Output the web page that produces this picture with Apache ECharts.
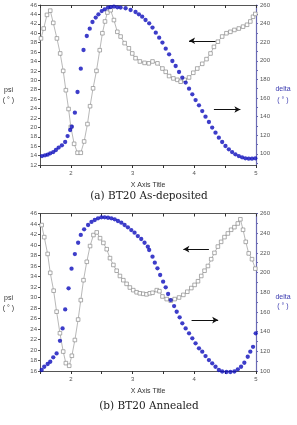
<!DOCTYPE html>
<html><head><meta charset="utf-8">
<script src="https://cdn.jsdelivr.net/npm/echarts@6/dist/echarts.min.js"></script>
<style>html,body{margin:0;padding:0;background:#fff}#c{width:297px;height:425px}</style>
</head><body><div id="c"></div>
<script>
// ---- data ----
const xPsiA = [1.516,1.56,1.613,1.666,1.715,1.774,1.827,1.876,1.919,1.963,2.0,2.053,2.108,2.161,2.215,2.269,2.311,2.36,2.415,2.468,2.511,2.553,2.592,2.645,2.698,2.753,2.806,2.871,2.94,2.995,3.048,3.118,3.194,3.263,3.323,3.403,3.484,3.537,3.592,3.661,3.726,3.779,3.844,3.915,3.984,4.048,4.129,4.198,4.263,4.318,4.382,4.452,4.521,4.585,4.65,4.721,4.79,4.855,4.908,4.952,4.989];
const psiA = [38.9,41.0,43.9,44.8,42.2,38.9,35.7,32.0,27.9,23.9,20.1,16.5,14.6,14.6,17.0,20.7,24.5,28.3,32.0,36.4,40.0,42.5,44.4,44.9,42.8,40.3,39.3,37.9,36.8,35.7,34.7,34.0,33.7,33.6,34.0,33.6,32.5,31.8,30.9,30.4,30.1,29.7,30.1,30.6,31.6,32.5,33.5,34.5,35.7,37.1,38.2,39.3,40.0,40.3,40.7,41.0,41.4,41.8,42.5,43.5,44.1];
const xDeltaA = [1.532,1.581,1.624,1.666,1.715,1.758,1.802,1.855,1.908,1.947,1.989,2.016,2.065,2.108,2.161,2.205,2.258,2.306,2.35,2.403,2.447,2.5,2.548,2.602,2.645,2.698,2.753,2.806,2.887,2.968,3.048,3.102,3.156,3.21,3.269,3.323,3.376,3.431,3.484,3.537,3.592,3.645,3.698,3.753,3.806,3.86,3.915,3.968,4.021,4.076,4.129,4.182,4.237,4.29,4.344,4.398,4.452,4.505,4.56,4.613,4.666,4.721,4.774,4.827,4.882,4.935,4.989];
const deltaA = [97.6,98.4,99.1,100.5,101.9,104.1,106.7,109.1,112.7,119.1,125.6,129.2,144.3,166.5,191.6,211.6,226.7,234.6,241.7,246.5,250,253.5,255.4,257.2,257.8,258.3,257.5,257.2,256.5,254.6,252.5,250,247.5,243.9,240.3,235.7,230.3,224.9,219.6,213.1,207,199.8,194.4,188,181.9,176.6,170.1,164,157.8,152.2,146,140,134.2,128.2,122.8,117.4,112.7,108.4,104.8,101.9,99.5,97.6,96.2,95.2,94.8,94.8,95.2];

const xPsiB = [1.527,1.569,1.624,1.666,1.721,1.769,1.823,1.876,1.919,1.973,2.016,2.065,2.118,2.161,2.205,2.258,2.311,2.366,2.419,2.473,2.527,2.581,2.634,2.689,2.742,2.795,2.85,2.903,2.956,3.011,3.065,3.118,3.173,3.226,3.279,3.323,3.392,3.435,3.484,3.553,3.618,3.682,3.753,3.823,3.887,3.952,4.005,4.06,4.113,4.166,4.221,4.274,4.327,4.382,4.435,4.489,4.544,4.597,4.65,4.705,4.747,4.79,4.834,4.882,4.935,4.989];
const psiB = [43.8,41.5,38.3,34.7,31.3,27.3,23.2,19.7,17.5,17.0,18.9,21.9,25.8,29.5,33.3,36.8,39.8,41.9,42.4,41.3,40.4,39.2,37.5,36.2,35.1,34.1,33.3,32.6,31.9,31.4,31.0,30.8,30.7,30.6,30.8,30.9,31.4,31.2,30.2,29.7,29.4,29.7,30.0,30.5,31.1,31.8,32.4,33.1,34.1,35.1,36.0,37.3,38.5,39.7,40.6,41.5,42.2,42.9,43.4,44.1,44.9,42.9,40.6,38.4,37.3,35.5];
const xDeltaB = [1.527,1.569,1.624,1.666,1.715,1.769,1.823,1.866,1.908,1.963,2.011,2.065,2.118,2.161,2.215,2.279,2.334,2.387,2.44,2.495,2.548,2.602,2.656,2.71,2.763,2.818,2.871,2.924,2.979,3.032,3.085,3.14,3.194,3.247,3.269,3.323,3.36,3.403,3.447,3.495,3.537,3.576,3.618,3.673,3.715,3.763,3.806,3.86,3.915,3.968,4.021,4.076,4.129,4.182,4.237,4.29,4.344,4.398,4.452,4.521,4.585,4.65,4.705,4.758,4.811,4.866,4.908,4.952,4.995];
const deltaB = [101,104.3,107.1,109.4,113.9,117.9,130.7,143.3,162.6,184,203.9,218.8,230.3,238.2,243.9,248.3,251.4,253.4,255.1,256.1,256.1,255.7,255.1,254.1,252.4,250.7,248.3,246,243.2,240.5,237.1,234.1,230.3,226.3,222.9,216.1,210,204.3,197.5,190.7,185,178.2,172.1,166,160.2,154.5,148.4,143.3,138.3,133.2,128.1,123,119.6,115.2,111.1,107.8,104.3,101,99.5,99,99,99.5,101.7,104.3,108.4,114.5,119.6,124.6,138.3];

const xTicks = [2, 3, 4, 5];
const deltaTicksA = [100,120,140,160,180,200,220,240,260];
const deltaMinorA = [90,100,110,120,130,140,150,160,170,180,190,200,210,220,230,240,250,260];
const captions = ['(a) BT20 As-deposited', '(b) BT20 Annealed'];
const xTitle = 'X Axis Title';
// arrows (data coords on psi axis): [x1, x2, y], head side
const arrowsA = [[3.915, 4.344, 38.4, 'left'], [4.318, 4.747, 23.8, 'right']];
const arrowsB = [[3.823, 4.237, 39.2, 'left'], [3.956, 4.387, 25.7, 'right']];

const chart = echarts.init(document.getElementById('c'), null, {renderer: 'canvas'});
const tickFont = {fontSize: 6, color: '#555', fontFamily: 'Liberation Sans'};
const axisGray = '#555';
const blueAxis = '#6a6ab4';
const dotBlue = '#0c0cbc';

function zip(xs, ys) { return xs.map((x, i) => [x, ys[i]]); }

function xAxes(gi) {
  return [{
    type: 'value', gridIndex: gi, min: 1.5, max: 5, interval: 0.5, position: 'bottom',
    axisLine: {lineStyle: {color: axisGray, width: 1}},
    axisTick: {length: 3, lineStyle: {color: '#333'}},
    axisLabel: Object.assign({margin: 5, formatter: v => xTicks.includes(v) ? String(v) : ''}, tickFont),
    splitLine: {show: false},
    name: xTitle, nameLocation: 'middle', nameGap: 17,
    nameTextStyle: {fontSize: 7, color: '#333', fontFamily: 'Liberation Sans'}
  }, {
    type: 'value', gridIndex: gi, min: 1.5, max: 5, interval: 0.5, position: 'top',
    axisLine: {lineStyle: {color: axisGray, width: 1}},
    axisTick: {inside: true, length: 3, lineStyle: {color: '#333'}},
    axisLabel: {show: false}, splitLine: {show: false}
  }];
}

function yAxes(gi, pmin, pmax, dmin, dmax) {
  const left = {
    type: 'value', gridIndex: gi, min: pmin, max: pmax, interval: 2, position: 'left',
    axisLine: {show: true, lineStyle: {color: axisGray}},
    axisTick: {show: true, length: 2, lineStyle: {color: '#555'}},
    axisLabel: Object.assign({margin: 3}, tickFont),
    splitLine: {show: false}
  };
  const right = {
    type: 'value', gridIndex: gi, min: dmin, max: dmax, position: 'right',
    axisLine: {show: true, lineStyle: {color: blueAxis, width: 1.2}},
    axisTick: {show: true, length: 2, customValues: deltaMinorA.filter(v => v >= dmin), lineStyle: {color: blueAxis}},
    axisLabel: Object.assign({margin: 4, customValues: deltaTicksA.filter(v => v >= dmin)}, tickFont),
    splitLine: {show: false}
  };
  return [left, right];
}

function arrowLines(arr) {
  return arr.map(a => {
    const [x1, x2, y, head] = a;
    return head === 'left'
      ? [{coord: [x2, y], symbol: 'none'}, {coord: [x1, y], symbol: 'arrow'}]
      : [{coord: [x1, y], symbol: 'none'}, {coord: [x2, y], symbol: 'arrow'}];
  });
}

function seriesFor(gi, xp, yp, xd, yd, arrows) {
  return [{
    type: 'line', xAxisIndex: gi * 2, yAxisIndex: gi * 2, data: zip(xp, yp),
    symbol: 'rect', symbolSize: 3.6,
    itemStyle: {color: '#ffffff', borderColor: '#8a8a8a', borderWidth: 0.7},
    lineStyle: {color: '#999', width: 0.7},
    animation: false, z: 2,
    markLine: {
      silent: true, animation: false, symbolSize: [5, 6],
      lineStyle: {color: '#111', width: 1, type: 'solid'},
      label: {show: false},
      data: arrowLines(arrows)
    }
  }, {
    type: 'scatter', xAxisIndex: gi * 2, yAxisIndex: gi * 2 + 1, data: zip(xd, yd),
    symbol: 'circle', symbolSize: 4.3, clip: false,
    itemStyle: {color: dotBlue}, animation: false, z: 3
  }];
}

const ya = yAxes(0, 12, 46, 88, 260);
const yb = yAxes(1, 16, 46, 100, 260);

function label(x, y, s, fill, size, family) {
  return {type: 'text', x: x, y: y, style: {text: s, fontSize: size || 7, fill: fill || '#333', fontFamily: family || 'Liberation Sans', align: 'center', verticalAlign: 'middle'}};
}

chart.setOption({
  animation: false,
  grid: [
    {left: 40, width: 216, top: 5, height: 160},
    {left: 40, width: 216, top: 213.5, height: 157.5}
  ],
  xAxis: [...xAxes(0), ...xAxes(1)],
  yAxis: [...ya, ...yb],
  series: [
    ...seriesFor(0, xPsiA, psiA, xDeltaA, deltaA, arrowsA),
    ...seriesFor(1, xPsiB, psiB, xDeltaB, deltaB, arrowsB)
  ],
  graphic: [
    label(8.5, 90, 'psi'), label(8.5, 100, '( ° )'),
    label(283, 89, 'delta', '#3b3bb0'), label(283, 100, '( ° )', '#3b3bb0'),
    label(8.5, 298, 'psi'), label(8.5, 308, '( ° )'),
    label(283, 297, 'delta', '#3b3bb0'), label(283, 306, '( ° )', '#3b3bb0'),
    label(149, 196, captions[0], '#222', 10.5, 'DejaVu Serif'),
    label(149, 406, captions[1], '#222', 10.5, 'DejaVu Serif')
  ]
});
</script>
</body></html>
